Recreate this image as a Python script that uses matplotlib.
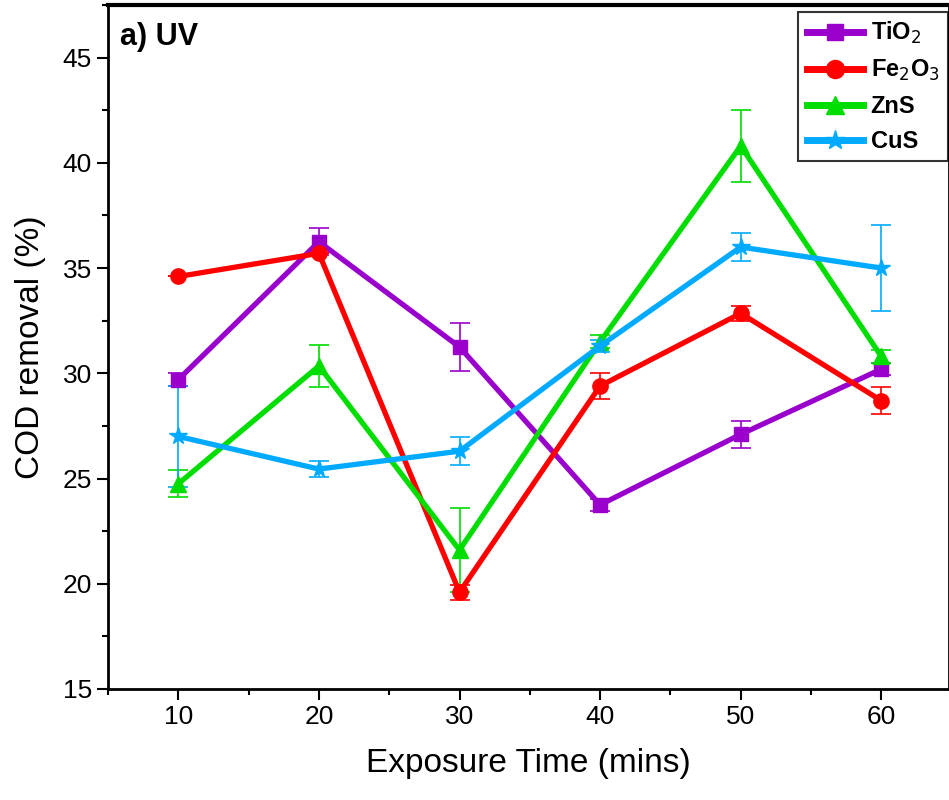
import numpy as np
import matplotlib.pyplot as plt
from matplotlib.ticker import MultipleLocator
from matplotlib.lines import Line2D

plt.rcParams['font.family'] = ['Liberation Sans', 'DejaVu Sans']

# Data
time = [10, 20, 30, 40, 50, 60]
tio2 = [29.7, 36.25, 31.25, 23.75, 27.1, 30.2]
tio2_err = [0.3, 0.65, 1.15, 0.3, 0.65, 0.3]
fe2o3 = [34.6, 35.7, 19.6, 29.4, 32.85, 28.7]
fe2o3_err = [0.0, 0.0, 0.35, 0.6, 0.35, 0.65]
zns = [24.75, 30.35, 21.6, 31.5, 40.8, 30.8]
zns_err = [0.65, 1.0, 2.0, 0.3, 1.7, 0.3]
cus = [27.0, 25.45, 26.3, 31.3, 36.0, 35.0]
cus_err = [2.4, 0.4, 0.65, 0.3, 0.67, 2.05]

series = [
    ('TiO$_2$', tio2, tio2_err, '#9900CC', 's', 10),
    ('Fe$_2$O$_3$', fe2o3, fe2o3_err, '#FF0000', 'o', 11),
    ('ZnS', zns, zns_err, '#00DD00', '^', 11),
    ('CuS', cus, cus_err, '#00AAFF', '*', 13),
]

fig = plt.figure(figsize=(9.49, 8), dpi=100)
ax = fig.add_axes([0.1138, 0.13875, 0.886, 0.855])

handles = []
for name, vals, err, col, mk, ms in series:
    ax.errorbar(time, vals, yerr=err, color=col, marker=mk, markersize=ms,
                linewidth=3.8, elinewidth=1.2, capsize=7, capthick=1.2)
    handles.append(Line2D([], [], color=col, marker=mk, markersize=ms + 2,
                          linewidth=5, label=name))

ax.set_xlim(5, 64.8)
ax.set_ylim(15, 47.5)
ax.xaxis.set_major_locator(MultipleLocator(10))
ax.xaxis.set_minor_locator(MultipleLocator(5))
ax.yaxis.set_major_locator(MultipleLocator(5))
ax.yaxis.set_minor_locator(MultipleLocator(2.5))
ax.tick_params(which='major', direction='out', length=8, width=1.5, labelsize=19)
ax.tick_params(which='minor', direction='out', length=4, width=1.5)
for s in ax.spines.values():
    s.set_linewidth(2)
ax.spines['top'].set_linewidth(3)

ax.set_xlabel('Exposure Time (mins)', fontsize=24, labelpad=14)
ax.set_ylabel('COD removal (%)', fontsize=24, labelpad=12)
ax.text(0.014, 0.975, 'a) UV', transform=ax.transAxes, fontsize=22,
        fontweight='bold', va='top', ha='left')

leg = ax.legend(handles=handles, loc='upper right', bbox_to_anchor=(0.9985, 0.99),
                prop={'weight': 'bold', 'size': 17}, frameon=True, fancybox=False,
                edgecolor='black', handlelength=2.4, borderpad=0.35,
                labelspacing=0.5, handletextpad=0.3, borderaxespad=0)
leg.get_frame().set_linewidth(1.5)

plt.savefig('out.png', dpi=100)
